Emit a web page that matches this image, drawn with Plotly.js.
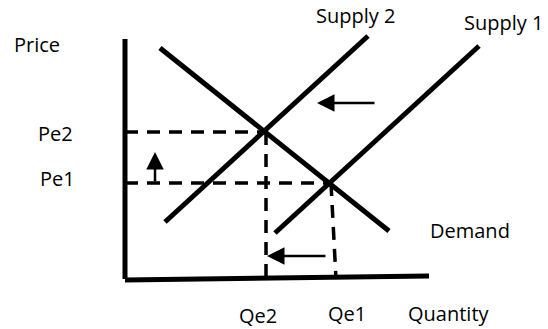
<!DOCTYPE html>
<html>
<head>
<meta charset="utf-8">
<script src="https://cdn.plot.ly/plotly-3.0.1.min.js"></script>
<style>html,body{margin:0;padding:0;background:#fff;}#chart{width:548px;height:329px;}</style>
</head>
<body>
<div id="chart"></div>
<script>
// Curve endpoints (quantity, price) in diagram units, origin at the axes corner
const demandQ = [35, 264];
const demandP = [231, 48];
const supply1Q = [150, 354];
const supply1P = [46, 233];
const supply2Q = [40, 243];
const supply2P = [57, 243];

// Axes of the diagram
const priceAxisQ = [0, 0];
const priceAxisP = [0, 240];
const qtyAxisQ = [0, 304];
const qtyAxisP = [-1, 3];

// Equilibria
const pe2 = 147, qe2 = 140;
const pe1 = 96, qe1 = 206, qe1Bottom = 211;

// Guide (dashed) lines
const guidePe2Q = [0, qe2];
const guidePe2P = [pe2, pe2];
const guidePe1Q = [0, qe1];
const guidePe1P = [pe1, pe1];
const guideQe2Q = [qe2 + 1, qe2 + 1];
const guideQe2P = [pe2, 0];
const guideQe1Q = [qe1, qe1Bottom];
const guideQe1P = [pe1, 0];

// Shift arrows: [tailQ, tailP, headQ, headP]
const arrowSupplyShift = [251, 176, 192, 176];
const arrowPriceUp = [30, 96, 30, 127];
const arrowQtyDown = [202, 23, 142, 23];

// Labels
const labelTexts = ["Price", "Pe2", "Pe1", "Qe2", "Qe1", "Quantity", "Demand", "Supply 2", "Supply 1"];
const labelQ = [-88, -70, -68, 133, 222, 324, 345, 230, 378];
const labelP = [235, 146, 101, -36, -34, -34, 49, 264, 257];

const solid = {color: '#000', width: 5};
const dashed = {color: '#000', width: 3.5, dash: '13px,9px'};
function tr(x, y, line) { return {x: x, y: y, mode: 'lines', line: line, hoverinfo: 'skip', showlegend: false, type: 'scatter'}; }

const data = [
  tr(guidePe2Q, guidePe2P, dashed),
  tr(guidePe1Q, guidePe1P, dashed),
  tr(guideQe2Q, guideQe2P, dashed),
  tr(guideQe1Q, guideQe1P, dashed),
  tr(priceAxisQ, priceAxisP, solid),
  tr(qtyAxisQ, qtyAxisP, solid),
  tr(demandQ, demandP, solid),
  tr(supply1Q, supply1P, solid),
  tr(supply2Q, supply2P, solid)
];

const annotations = [];
[arrowSupplyShift, arrowPriceUp, arrowQtyDown].forEach(a => {
  annotations.push({x: a[2], y: a[3], ax: a[0], ay: a[1], xref: 'x', yref: 'y', axref: 'x', ayref: 'y',
    text: '', showarrow: true, arrowhead: 2, arrowsize: 1.4, arrowwidth: 2.5, arrowcolor: '#000'});
});
labelTexts.forEach((t, i) => {
  annotations.push({x: labelQ[i], y: labelP[i], xref: 'x', yref: 'y', text: t, showarrow: false,
    font: {family: 'Open Sans, Noto Sans, sans-serif', size: 20, color: '#000'}});
});

const layout = {
  width: 548, height: 329,
  margin: {l: 0, r: 0, t: 0, b: 0, pad: 0},
  paper_bgcolor: '#fff', plot_bgcolor: '#fff',
  xaxis: {range: [-125, 423], visible: false, fixedrange: true},
  yaxis: {range: [-50, 279], visible: false, fixedrange: true},
  annotations: annotations,
  showlegend: false
};
Plotly.newPlot('chart', data, layout, {staticPlot: true, displayModeBar: false});
</script>
</body>
</html>
